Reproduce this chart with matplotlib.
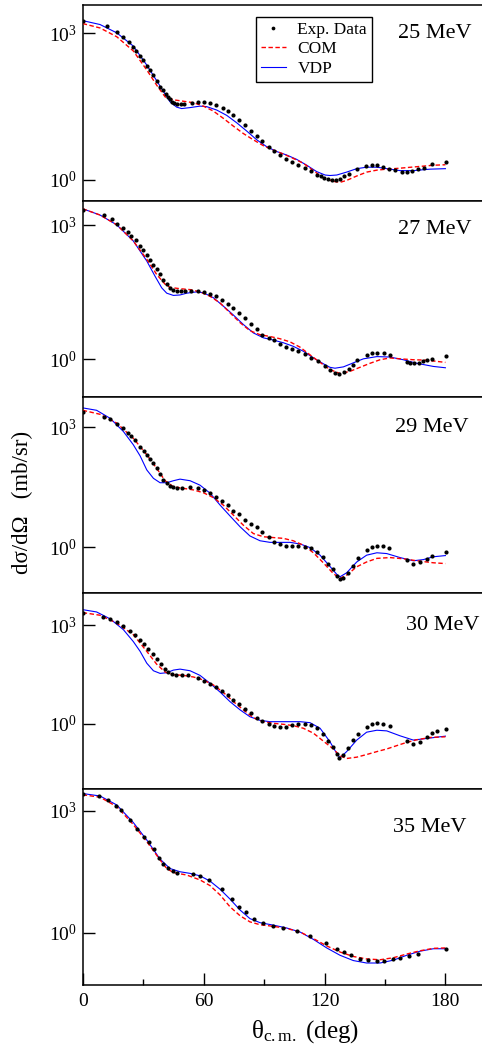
import numpy as np
import matplotlib
matplotlib.use("Agg")
import matplotlib.pyplot as plt
from matplotlib.ticker import FixedLocator, NullLocator, FuncFormatter

# ---------------- fonts ----------------
plt.rcParams["font.family"] = ["Liberation Serif", "DejaVu Serif"]
plt.rcParams["mathtext.fontset"] = "custom"
plt.rcParams["mathtext.rm"] = "Liberation Serif"
plt.rcParams["mathtext.it"] = "Liberation Serif:italic"
plt.rcParams["mathtext.bf"] = "Liberation Serif:bold"

# ---------------- data (angles in deg, cross sections as log10 mb/sr) ----------------
ENERGIES = ["25 MeV", "27 MeV", "29 MeV", "30 MeV", "35 MeV"]

# 25 MeV
EXP25_X = [0, 12.2, 17.2, 20.2, 23.0, 24.8, 26.5, 28.5, 30.1, 31.8, 33.6, 35.1, 36.7, 38.5, 40.0, 41.2,
           42.5, 43.3, 44.3, 45.5, 47.0, 48.6, 50.3, 54.1, 57.2, 60.2, 63.4, 66.3, 69.5, 72.1, 74.8, 77.7,
           80.7, 83.5, 86.4, 89.2, 92.3, 95.1, 97.9, 100.9, 103.9, 107.0, 110.2, 113.3, 116.5, 118.1, 119.8,
           121.9, 123.9, 125.9, 127.9, 129.9, 132.0, 136.3, 140.6, 143.6, 146.2, 149.2, 152.2, 155.2, 158.3,
           160.8, 163.6, 166.4, 169.4, 173.2, 180.1]
EXP25_Y = [3.26, 3.15, 3.02, 2.92, 2.82, 2.73, 2.64, 2.54, 2.45, 2.34, 2.24, 2.14, 2.02, 1.90, 1.83, 1.75,
           1.69, 1.65, 1.60, 1.57, 1.55, 1.55, 1.55, 1.58, 1.59, 1.59, 1.57, 1.53, 1.47, 1.41, 1.32, 1.23,
           1.12, 1.01, 0.90, 0.79, 0.68, 0.59, 0.50, 0.43, 0.36, 0.31, 0.25, 0.18, 0.11, 0.07, 0.03,
           0.01, -0.01, -0.01, 0.02, 0.07, 0.13, 0.22, 0.29, 0.30, 0.30, 0.27, 0.22, 0.20, 0.17,
           0.17, 0.19, 0.22, 0.25, 0.33, 0.37]
COM25_X = [0, 8.6, 16.9, 25.1, 31.8, 36.7, 40.9, 45.0, 50.0, 55.0, 59.9, 64.8, 69.8, 74.8, 79.7, 84.7,
           89.7, 94.6, 99.6, 104.5, 109.5, 114.5, 119.4, 124.4, 127.7, 131.0, 136.0, 141.0, 146.0, 150.9,
           157.5, 165.8, 174.0, 180.0]
COM25_Y = [3.20, 3.11, 2.93, 2.64, 2.25, 1.94, 1.70, 1.64, 1.61, 1.58, 1.51, 1.41, 1.26, 1.10, 0.95, 0.82,
           0.70, 0.61, 0.53, 0.44, 0.34, 0.19, 0.04, -0.03, -0.05, -0.01, 0.08, 0.16, 0.20, 0.22,
           0.24, 0.27, 0.30, 0.31]
VDP25_X = [0, 8.6, 16.9, 25.1, 31.8, 38.4, 43.3, 46.6, 49.1, 53.3, 58.2, 61.5, 66.5, 71.5, 76.4, 81.4,
           86.4, 91.3, 96.3, 101.2, 106.2, 111.2, 116.1, 120.3, 122.7, 126.1, 131.0, 136.0, 140.9, 146.0,
           150.9, 157.5, 164.0, 172.4, 180.0]
VDP25_Y = [3.26, 3.18, 3.01, 2.74, 2.35, 1.92, 1.60, 1.49, 1.46, 1.48, 1.51, 1.50, 1.43, 1.32, 1.17, 1.00,
           0.82, 0.68, 0.58, 0.51, 0.42, 0.30, 0.17, 0.10, 0.09, 0.10, 0.16, 0.23, 0.26, 0.26,
           0.23, 0.19, 0.19, 0.22, 0.23]

# 27 MeV
EXP27_X = [0, 10.8, 14.6, 17.2, 20.2, 22.7, 24.2, 26.5, 28.5, 30.1, 31.8, 33.4, 35.1, 36.7, 38.4, 40.0,
           41.7, 43.3, 45.0, 47.0, 48.9, 50.9, 53.9, 57.2, 60.2, 63.4, 66.3, 69.1, 72.1, 74.8, 77.7, 80.7,
           83.5, 86.4, 89.2, 92.3, 95.1, 97.9, 100.9, 103.9, 107.0, 110.2, 113.3, 116.8, 120.3, 122.7,
           125.4, 127.4, 129.7, 132.0, 134.3, 136.3, 140.9, 143.6, 146.2, 149.5, 152.5, 160.8, 162.4,
           164.6, 166.9, 169.1, 170.7, 173.4, 180.1]
EXP27_Y = [3.34, 3.22, 3.13, 3.04, 2.95, 2.85, 2.76, 2.66, 2.54, 2.45, 2.34, 2.23, 2.12, 2.02, 1.90, 1.77,
           1.68, 1.59, 1.55, 1.52, 1.52, 1.52, 1.52, 1.53, 1.50, 1.47, 1.41, 1.32, 1.24, 1.14, 1.04, 0.92,
           0.79, 0.67, 0.55, 0.48, 0.43, 0.34, 0.28, 0.23, 0.19, 0.12, 0.03, -0.04, -0.16, -0.25,
           -0.31, -0.32, -0.28, -0.21, -0.12, -0.02, 0.10, 0.13, 0.15, 0.13, 0.10, -0.06, -0.08,
           -0.09, -0.08, -0.04, -0.02, 0.01, 0.07]
COM27_X = [0, 8.6, 16.9, 25.1, 31.8, 36.7, 40.9, 43.3, 48.3, 53.3, 58.2, 63.2, 68.2, 73.1, 78.1, 83.0,
           88.0, 93.0, 97.9, 102.9, 107.9, 112.8, 117.8, 122.7, 127.7, 132.7, 137.6, 142.6, 147.6, 152.5,
           157.5, 164.0, 170.7, 180.0]
COM27_Y = [3.37, 3.23, 3.01, 2.65, 2.24, 1.90, 1.68, 1.61, 1.58, 1.56, 1.51, 1.41, 1.26, 1.04, 0.82, 0.64,
           0.55, 0.51, 0.46, 0.39, 0.27, 0.10, -0.07, -0.23, -0.32, -0.27, -0.18, -0.09, -0.01, 0.03,
           0.01, -0.01, -0.02, -0.07]
VDP27_X = [0, 8.6, 16.9, 25.1, 31.8, 35.9, 39.2, 41.7, 45.0, 48.3, 51.6, 56.6, 59.9, 64.8, 69.8, 74.8,
           79.7, 84.7, 89.7, 94.6, 99.6, 104.5, 109.5, 114.5, 119.4, 122.7, 125.2, 129.4, 134.3, 139.3,
           146.0, 152.5, 159.1, 165.8, 174.0, 180.0]
VDP27_Y = [3.37, 3.23, 3.01, 2.65, 2.20, 1.86, 1.60, 1.48, 1.43, 1.44, 1.48, 1.51, 1.49, 1.38, 1.19, 0.99,
           0.78, 0.59, 0.48, 0.43, 0.37, 0.29, 0.18, 0.03, -0.10, -0.18, -0.20, -0.17, -0.08, 0.01,
           0.06, 0.05, -0.01, -0.09, -0.16, -0.19]

# 29 MeV
EXP29_X = [0, 10.8, 13.6, 16.9, 20.2, 22.7, 24.0, 26.0, 28.5, 30.4, 31.8, 33.4, 35.1, 36.7, 38.4, 40.0,
           41.7, 43.3, 44.7, 46.6, 49.1, 53.3, 57.2, 60.2, 63.4, 66.3, 69.1, 72.1, 74.8, 77.7, 80.7, 83.5,
           86.4, 89.2, 92.3, 95.1, 97.9, 100.9, 103.9, 107.0, 110.2, 113.3, 116.1, 119.1, 121.9, 124.4,
           126.1, 127.7, 129.4, 131.8, 134.0, 136.8, 140.9, 143.4, 145.9, 149.2, 152.2, 160.8, 164.1,
           167.4, 170.7, 173.5, 180.1]
EXP29_Y = [3.38, 3.24, 3.20, 3.08, 2.97, 2.85, 2.79, 2.68, 2.51, 2.41, 2.31, 2.20, 2.10, 1.97, 1.83, 1.68,
           1.60, 1.54, 1.50, 1.49, 1.49, 1.50, 1.49, 1.43, 1.35, 1.26, 1.15, 1.05, 0.91, 0.84, 0.67, 0.59,
           0.50, 0.38, 0.26, 0.13, 0.08, 0.04, 0.03, 0.04, 0.01, -0.03, -0.11, -0.24, -0.41, -0.55,
           -0.71, -0.79, -0.76, -0.64, -0.47, -0.27, -0.06, 0.00, 0.03, 0.03, -0.03, -0.33, -0.41,
           -0.38, -0.30, -0.21, -0.12]
COM29_X = [0, 8.6, 16.9, 25.1, 31.8, 36.7, 40.9, 45.0, 50.0, 55.0, 59.9, 64.8, 69.8, 74.8, 79.7, 84.7,
           89.7, 94.6, 99.6, 104.5, 109.5, 114.5, 119.4, 124.4, 127.7, 131.0, 136.0, 140.9, 146.0, 152.5,
           159.1, 165.8, 174.0, 180.0]
COM29_Y = [3.42, 3.32, 3.10, 2.72, 2.31, 1.97, 1.66, 1.51, 1.47, 1.43, 1.36, 1.24, 1.05, 0.80, 0.55, 0.34,
           0.26, 0.24, 0.22, 0.16, 0.05, -0.14, -0.39, -0.66, -0.78, -0.70, -0.49, -0.37, -0.28, -0.26,
           -0.29, -0.34, -0.39, -0.41]
VDP29_X = [0, 6.9, 13.6, 20.2, 25.1, 28.5, 31.8, 35.1, 38.4, 41.7, 45.0, 48.3, 53.3, 58.2, 63.2, 68.2,
           73.1, 78.1, 83.0, 88.0, 93.0, 97.9, 102.9, 107.9, 112.8, 117.8, 122.7, 126.1, 127.7, 131.0,
           136.0, 140.9, 146.0, 150.9, 157.5, 164.1, 169.1, 174.0, 180.0]
VDP29_Y = [3.48, 3.42, 3.22, 2.89, 2.56, 2.28, 1.93, 1.72, 1.61, 1.61, 1.66, 1.70, 1.66, 1.55, 1.35, 1.05,
           0.78, 0.51, 0.28, 0.16, 0.12, 0.12, 0.12, 0.08, -0.01, -0.20, -0.48, -0.68, -0.74, -0.64,
           -0.37, -0.20, -0.14, -0.16, -0.26, -0.34, -0.31, -0.24, -0.21]

# 30 MeV
EXP30_X = [0, 10.3, 13.6, 16.9, 20.2, 23.5, 26.0, 28.5, 30.4, 32.6, 34.7, 36.7, 38.7, 40.9, 42.5, 44.2,
           46.2, 49.1, 52.4, 57.2, 60.2, 63.4, 66.3, 69.1, 72.1, 74.8, 77.7, 80.7, 83.5, 86.4, 89.2, 92.3,
           95.1, 97.9, 100.9, 103.9, 107.0, 110.2, 113.3, 116.1, 119.1, 121.9, 124.4, 126.1, 127.4,
           129.4, 131.8, 134.3, 136.8, 140.9, 143.4, 145.9, 149.2, 152.5, 160.8, 164.1, 167.4, 170.7,
           173.5, 175.7, 180.1]
EXP30_Y = [3.38, 3.26, 3.19, 3.09, 2.97, 2.82, 2.72, 2.56, 2.44, 2.28, 2.14, 1.98, 1.82, 1.68, 1.58, 1.52,
           1.50, 1.50, 1.49, 1.39, 1.31, 1.21, 1.12, 1.01, 0.89, 0.73, 0.60, 0.46, 0.33, 0.19, 0.10, 0.01,
           -0.05, -0.09, -0.09, -0.04, -0.01, 0.00, -0.03, -0.13, -0.32, -0.51, -0.71, -0.90, -1.05,
           -0.93, -0.72, -0.49, -0.31, -0.08, -0.01, 0.02, 0.00, -0.05, -0.52, -0.62, -0.56, -0.39,
           -0.26, -0.21, -0.15]
COM30_X = [0, 8.6, 16.9, 25.1, 31.8, 36.7, 40.9, 45.0, 50.0, 55.0, 59.9, 64.8, 69.8, 74.8, 79.7, 84.7,
           89.7, 94.6, 99.6, 104.5, 109.5, 114.5, 119.4, 124.4, 127.7, 131.0, 136.0, 140.9, 146.0, 150.9,
           155.8, 160.8, 165.8, 172.4, 180.0]
COM30_Y = [3.39, 3.31, 3.07, 2.72, 2.21, 1.82, 1.58, 1.50, 1.48, 1.43, 1.34, 1.19, 0.96, 0.68, 0.43, 0.19,
           0.07, 0.02, -0.01, -0.05, -0.13, -0.28, -0.52, -0.76, -0.97, -1.05, -1.01, -0.93, -0.84, -0.76,
           -0.66, -0.56, -0.48, -0.41, -0.39]
VDP30_X = [0, 6.9, 13.6, 20.2, 25.1, 28.5, 31.8, 35.1, 38.4, 41.7, 45.0, 48.3, 53.3, 58.2, 63.2, 68.2,
           73.1, 78.1, 83.0, 88.0, 93.0, 97.9, 102.9, 107.9, 112.8, 117.8, 122.7, 126.1, 127.7, 131.0,
           136.0, 140.9, 146.0, 150.9, 157.5, 164.1, 170.7, 180.0]
VDP30_Y = [3.48, 3.41, 3.20, 2.87, 2.51, 2.21, 1.85, 1.62, 1.54, 1.56, 1.64, 1.67, 1.62, 1.48, 1.24, 0.97,
           0.68, 0.43, 0.22, 0.11, 0.07, 0.07, 0.07, 0.07, 0.04, -0.13, -0.54, -0.90, -1.03, -0.84,
           -0.49, -0.25, -0.19, -0.21, -0.36, -0.49, -0.44, -0.37]

# 35 MeV
EXP35_X = [0, 8.3, 12.7, 16.5, 18.9, 23.5, 26.8, 30.4, 32.9, 35.4, 37.9, 40.0, 42.5, 44.7, 47.0, 54.6,
           58.2, 62.9, 69.3, 74.3, 77.7, 81.1, 85.0, 89.7, 94.3, 99.6, 106.5, 112.8, 120.6, 126.1, 129.7,
           133.2, 137.6, 141.4, 146.0, 149.7, 153.8, 157.5, 161.7, 166.6, 180.1]
EXP35_Y = [3.41, 3.35, 3.25, 3.12, 3.02, 2.77, 2.55, 2.35, 2.22, 2.06, 1.84, 1.70, 1.60, 1.52, 1.48, 1.45,
           1.40, 1.30, 1.07, 0.84, 0.64, 0.50, 0.35, 0.25, 0.17, 0.12, 0.05, -0.07, -0.24, -0.39, -0.47,
           -0.55, -0.63, -0.67, -0.69, -0.68, -0.65, -0.61, -0.56, -0.51, -0.40]
COM35_X = [0, 8.6, 16.9, 25.1, 31.8, 38.4, 41.7, 45.0, 51.6, 58.2, 63.2, 68.2, 73.1, 78.1, 83.0, 88.0,
           94.6, 101.2, 107.9, 114.5, 121.1, 127.7, 134.3, 140.9, 147.6, 154.2, 160.8, 167.4, 174.0, 180.0]
COM35_Y = [3.39, 3.33, 3.10, 2.66, 2.24, 1.79, 1.58, 1.48, 1.42, 1.30, 1.16, 0.93, 0.64, 0.42, 0.27, 0.20,
           0.16, 0.11, 0.02, -0.14, -0.32, -0.47, -0.58, -0.64, -0.66, -0.61, -0.52, -0.44, -0.38, -0.37]
VDP35_X = [0, 8.6, 16.9, 25.1, 31.8, 38.4, 43.3, 48.3, 53.3, 58.2, 63.2, 68.2, 73.1, 78.1, 83.0, 88.0,
           94.6, 101.2, 107.9, 114.5, 121.1, 127.7, 134.3, 140.9, 147.6, 154.2, 160.8, 167.4, 174.0, 180.0]
VDP35_Y = [3.42, 3.36, 3.14, 2.71, 2.28, 1.81, 1.58, 1.50, 1.46, 1.40, 1.27, 1.07, 0.83, 0.56, 0.35, 0.25,
           0.19, 0.12, 0.02, -0.16, -0.37, -0.55, -0.68, -0.74, -0.74, -0.67, -0.55, -0.45, -0.39, -0.39]

# y-range of each panel (mb/sr)
YLIMS = [(0.37, 3800), (0.143, 3500), (0.0716, 5650), (0.0105, 9700), (0.054, 3400)]

PANELS = [
    (EXP25_X, EXP25_Y, COM25_X, COM25_Y, VDP25_X, VDP25_Y),
    (EXP27_X, EXP27_Y, COM27_X, COM27_Y, VDP27_X, VDP27_Y),
    (EXP29_X, EXP29_Y, COM29_X, COM29_Y, VDP29_X, VDP29_Y),
    (EXP30_X, EXP30_Y, COM30_X, COM30_Y, VDP30_X, VDP30_Y),
    (EXP35_X, EXP35_Y, COM35_X, COM35_Y, VDP35_X, VDP35_Y),
]

# ---------------- layout (pixels) ----------------
W, H = 482, 1052
AX_LEFT = 82.7
AX_WIDTH = 403.0          # 0..200 deg
PANEL_TOPS = [5.0, 201.0, 397.0, 593.0, 789.0]
AX_BOTTOM = 984.5
LABEL_POS = [(398, 33), (398, 229), (395, 427), (406, 625), (393, 827)]


def fx(px):
    return px / W


def fy(py):
    return 1 - py / H


def log_label(v, _pos):
    return r"$10^{%d}$" % int(round(np.log10(v)))


fig = plt.figure(figsize=(W / 100, H / 100), dpi=100)

tops = PANEL_TOPS + [AX_BOTTOM]
axes = []
for i, (ex, ey, cx, cy, vx, vy) in enumerate(PANELS):
    top, bot = tops[i], tops[i + 1]
    ax = fig.add_axes([fx(AX_LEFT), fy(bot), AX_WIDTH / W, (bot - top) / H])
    axes.append(ax)

    ax.plot(ex, 10 ** np.array(ey), "o", color="black", ms=3.0, mew=0,
            label="Exp. Data", zorder=4)
    ax.plot(cx, 10 ** np.array(cy), color="#ff0000", lw=1.0,
            linestyle=(0, (3.2, 1.8)), label="COM", zorder=3)
    ax.plot(vx, 10 ** np.array(vy), color="#0000ff", lw=0.8,
            label="VDP", zorder=2)

    ax.set_yscale("log")
    ax.set_xlim(0, 200)
    ax.set_ylim(*YLIMS[i])

    ax.yaxis.set_major_locator(FixedLocator([1, 1000]))
    ax.yaxis.set_minor_locator(NullLocator())
    ax.yaxis.set_major_formatter(FuncFormatter(log_label))
    ax.tick_params(axis="y", which="major", direction="in", length=8.5,
                   width=1.0, labelsize=14, pad=4, right=False)

    if i < len(PANELS) - 1:
        ax.tick_params(axis="x", which="both", bottom=False, top=False,
                       labelbottom=False)
    else:
        ax.set_xticks([0, 60, 120, 180])
        ax.set_xticks([30, 90, 150], minor=True)
        ax.tick_params(axis="x", which="major", direction="in", length=8.5,
                       width=1.0, labelsize=14, pad=6, top=False)
        ax.tick_params(axis="x", which="minor", direction="in", length=4.5,
                       width=1.0, top=False)

    for spine in ax.spines.values():
        spine.set_linewidth(1.1)

    lx, ly = LABEL_POS[i]
    fig.text(fx(lx), fy(ly), ENERGIES[i], fontsize=16, ha="left", va="center")

# legend in the top panel
leg = axes[0].legend(
    loc="upper left",
    bbox_to_anchor=(fx(255.7), fy(16.7)),
    bbox_transform=fig.transFigure,
    fontsize=12.5,
    frameon=True,
    fancybox=False,
    edgecolor="black",
    framealpha=1,
    numpoints=1,
    markerscale=0.9,
    handlelength=1.45,
    handletextpad=0.65,
    labelspacing=0.18,
    borderpad=0.3,
    borderaxespad=0,
)
leg.get_frame().set_linewidth(1.0)

# axis titles
fig.text(fx(22.5), fy(502), "dσ/dΩ   (mb/sr)", fontsize=16.5, rotation=90,
         ha="center", va="center")
fig.text(fx(305), fy(1032), r"θ$_{\mathrm{c.m.}}$ (deg)", fontsize=18,
         ha="center", va="center")

fig.savefig("out.png", dpi=100, facecolor="white")
